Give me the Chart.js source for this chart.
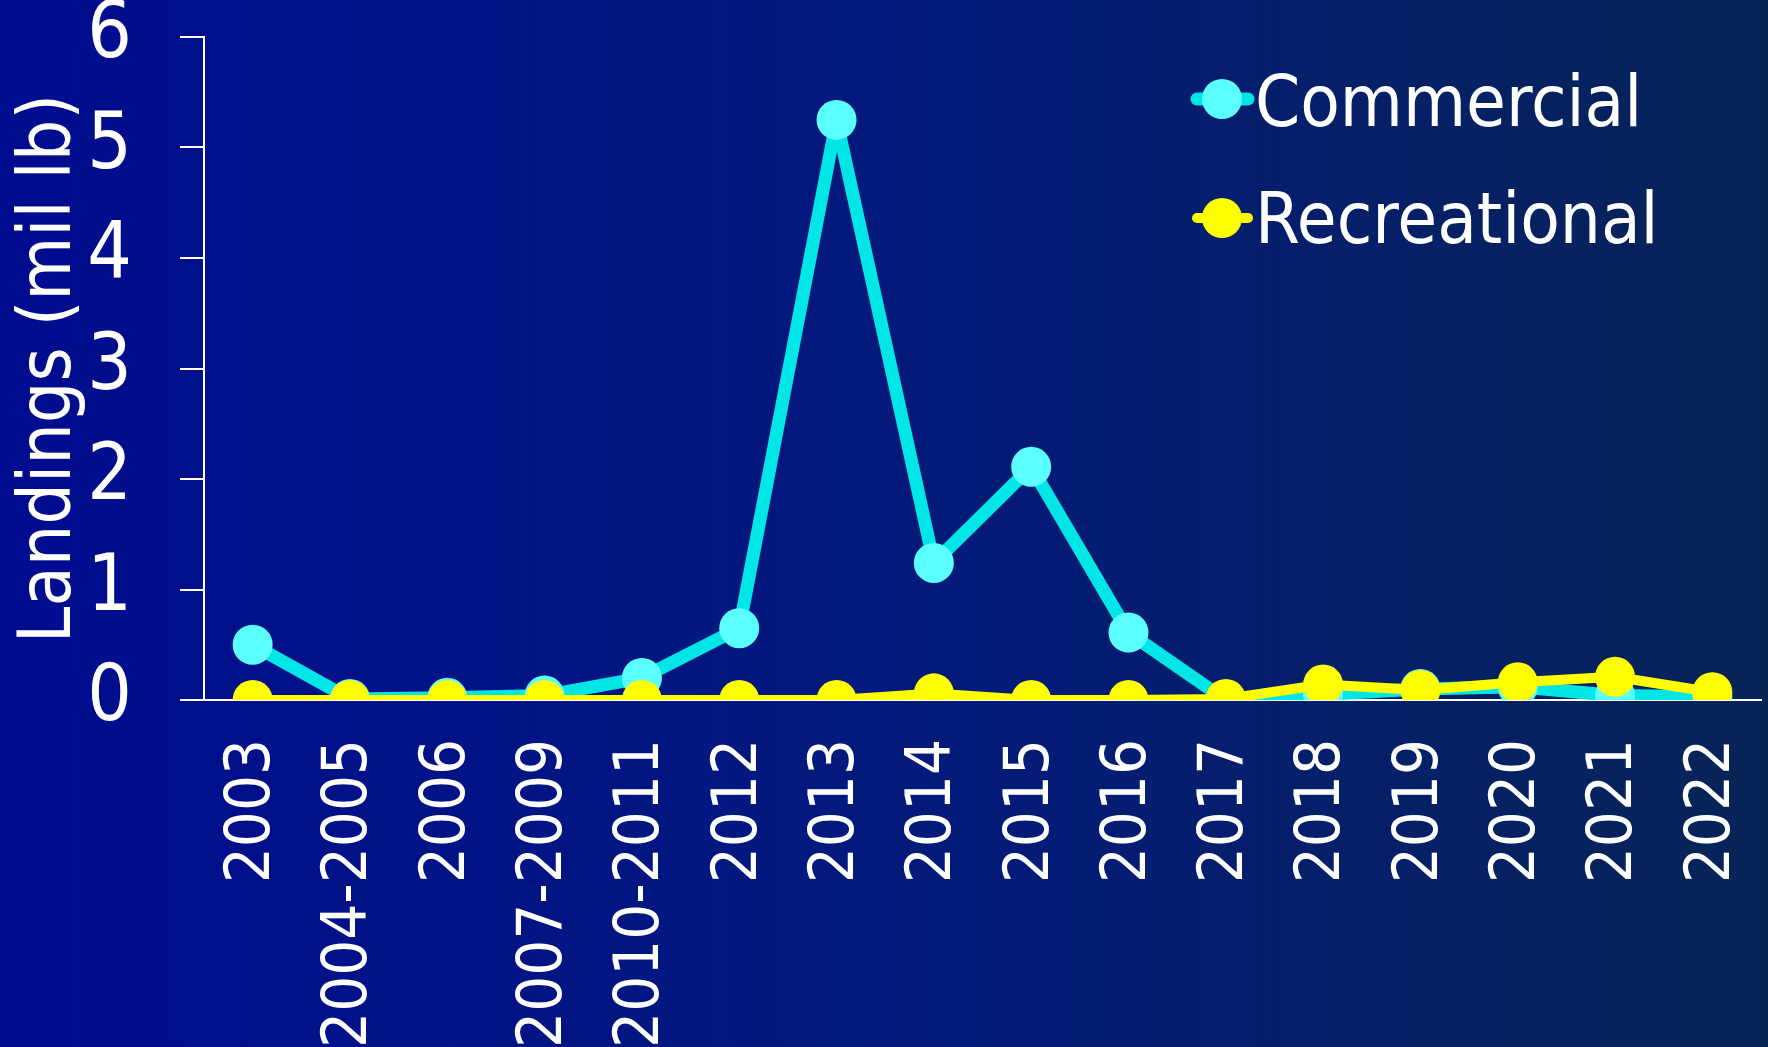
<!DOCTYPE html>
<html>
<head>
<meta charset="utf-8">
<script src="https://cdn.jsdelivr.net/npm/chart.js@4.4.1/dist/chart.umd.min.js"></script>
<style>
  html, body { margin: 0; padding: 0; background: #031a78; }
  #landings { display: block; }
</style>
</head>
<body>
<canvas id="landings" width="1768" height="1047"></canvas>
<script>
var categories = ["2003", "2004-2005", "2006", "2007-2009", "2010-2011", "2012", "2013", "2014",
                  "2015", "2016", "2017", "2018", "2019", "2020", "2021", "2022"];
var commercial = [0.50, 0.01, 0.02, 0.04, 0.20, 0.65, 5.25, 1.24, 2.11, 0.61, 0.00, 0.05, 0.10, 0.12, 0.04, 0.03];
var recreational = [0.00, 0.00, 0.00, 0.00, 0.00, 0.00, 0.00, 0.06, 0.00, 0.00, 0.01, 0.14, 0.09, 0.16, 0.21, 0.07];
var seriesNames = ["Commercial", "Recreational"];
var yTitle = "Landings (mil lb)";

var FONT = '"DejaVu Sans Condensed", "DejaVu Sans", sans-serif';
var cyanLine = "#00e6e6", cyanPoint = "#5cffff", yellow = "#ffff00";

// slide background, dark blue fading to navy
var bgPlugin = {
    id: 'bg',
    beforeDraw: function (chart) {
        var ctx = chart.ctx;
        var g = ctx.createLinearGradient(0, 0, chart.width, 0);
        g.addColorStop(0, "#000c8f");
        g.addColorStop(0.5, "#031a7c");
        g.addColorStop(1, "#072457");
        ctx.save();
        ctx.fillStyle = g;
        ctx.fillRect(0, 0, chart.width, chart.height);
        ctx.restore();
    }
};

// legend with line + marker, top right
var legendPlugin = {
    id: 'lineLegend',
    afterDraw: function (chart) {
        var ctx = chart.ctx;
        var items = [
            {text: seriesNames[0], line: cyanLine, fill: cyanPoint, w: 13, y: 99, base: 126},
            {text: seriesNames[1], line: yellow, fill: yellow, w: 10, y: 218, base: 243}
        ];
        ctx.save();
        items.forEach(function (it) {
            ctx.strokeStyle = it.line;
            ctx.lineWidth = it.w;
            ctx.lineCap = "round";
            ctx.beginPath();
            ctx.moveTo(1197, it.y);
            ctx.lineTo(1248, it.y);
            ctx.stroke();
            ctx.fillStyle = it.fill;
            ctx.beginPath();
            ctx.arc(1222, it.y, 20, 0, Math.PI * 2);
            ctx.fill();
            ctx.fillStyle = "#ffffff";
            ctx.font = "72px " + FONT;
            ctx.textBaseline = "alphabetic";
            ctx.textAlign = "left";
            ctx.fillText(it.text, 1255, it.base);
        });
        ctx.restore();
    }
};

var ctx = document.getElementById('landings').getContext('2d');
var chart = new Chart(ctx, {
    type: 'line',
    data: {
        labels: categories,
        datasets: [
            {
                label: seriesNames[0],
                data: commercial,
                borderColor: cyanLine,
                backgroundColor: cyanPoint,
                pointBackgroundColor: cyanPoint,
                pointBorderWidth: 0,
                pointRadius: 20,
                borderWidth: 13,
                borderJoinStyle: 'round',
                tension: 0,
                order: 1
            },
            {
                label: seriesNames[1],
                data: recreational,
                borderColor: yellow,
                backgroundColor: yellow,
                pointBackgroundColor: yellow,
                pointBorderWidth: 0,
                pointRadius: 20,
                borderWidth: 10,
                borderJoinStyle: 'round',
                tension: 0,
                order: 0
            }
        ]
    },
    options: {
        responsive: false,
        animation: false,
        layout: {autoPadding: false, padding: {top: 37, right: 7, bottom: 0, left: 0}},
        plugins: {
            legend: {display: false},
            tooltip: {enabled: false}
        },
        scales: {
            x: {
                offset: true,
                grid: {color: "rgba(0,0,0,0)", drawTicks: false, drawOnChartArea: false},
                border: {display: true, color: "#ffffff", width: 2},
                ticks: {
                    color: "#ffffff",
                    font: {family: FONT, size: 63},
                    minRotation: 90,
                    maxRotation: 90,
                    autoSkip: false,
                    padding: 39
                },
                afterFit: function (s) {
                    s.height = 347;
                    s.paddingLeft = 0;
                    s.paddingRight = 0;
                }
            },
            y: {
                min: 0,
                max: 6,
                ticks: {
                    stepSize: 1,
                    color: "#ffffff",
                    font: {family: FONT, size: 78},
                    padding: 48
                },
                grid: {color: "#ffffff", lineWidth: 2, drawOnChartArea: false, tickLength: 24},
                border: {display: true, color: "#ffffff", width: 2},
                title: {
                    display: true,
                    text: yTitle,
                    color: "#ffffff",
                    font: {family: FONT, size: 73, lineHeight: 1},
                    padding: {top: 15, bottom: 0}
                },
                afterFit: function (s) {
                    s.width = 204;
                    s.paddingTop = 0;
                    s.paddingBottom = 0;
                }
            }
        }
    },
    plugins: [bgPlugin, legendPlugin]
});
</script>
</body>
</html>
